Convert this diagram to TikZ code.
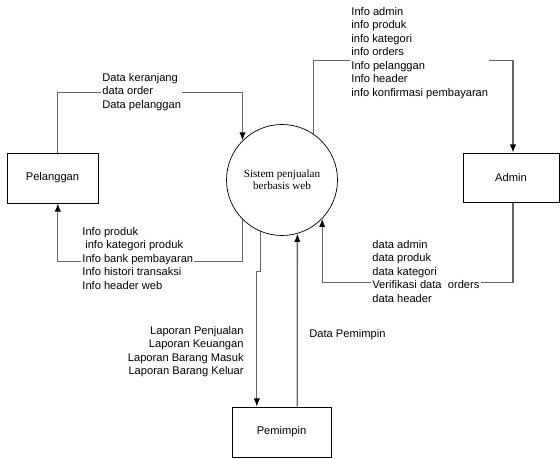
\documentclass[tikz,border=0pt]{standalone}
\usepackage{fontspec}
\setmainfont{Liberation Sans}
\newfontfamily\sysfont{Liberation Serif}
\usetikzlibrary{arrows.meta,calc,backgrounds}

\begin{document}
\begin{tikzpicture}[x=0.03cm,y=-0.03cm,
  box/.style={draw=black,line width=0.6pt,minimum height=1.5cm,font=\fontsize{9.5}{11.5}\selectfont},
  flow/.style={draw=black!60,line width=1.1pt,-{Latex[length=7pt,width=5.5pt,black]}},
  lbl/.style={fill=white,inner sep=1pt,align=left,font=\fontsize{9.5}{11.5}\selectfont}]
\useasboundingbox (0,0) rectangle (560,459);

% process and external entities
\node[circle,draw=black,line width=0.6pt,minimum size=3.33cm,align=center,font=\sysfont\fontsize{9.5}{10}\selectfont] (sys) at (282,180) {Sistem penjualan\\berbasis web};
\node[box,minimum width=2.73cm] (pel) at (52.5,178) {Pelanggan};
\node[box,minimum width=2.88cm,minimum height=1.47cm] (adm) at (511,177.5) {Admin};
\node[box,minimum width=2.97cm] (pem) at (281.5,432) {Pemimpin};

% data flow labels
\node[lbl,anchor=north west] (pelin) at (101,72) {Data keranjang\\data order\\Data pelanggan};
\node[lbl,anchor=north west] (pelout) at (81,226) {Info produk\\\hspace{2.5pt}info kategori produk\\Info bank pembayaran\\Info histori transaksi\\Info header web};
\node[lbl,anchor=north west] (admin) at (350,6) {Info admin\\info produk\\info kategori\\info orders\\Info pelanggan\\Info header\\info konfirmasi pembayaran};
\node[lbl,anchor=north west] (admout) at (371,239) {data admin\\data produk\\data kategori\\Verifikasi data\ \ orders\\data header};
\node[lbl,anchor=north east,align=right] (pemout) at (245,325) {Laporan Penjualan\\Laporan Keuangan\\Laporan Barang Masuk\\Laporan Barang Keluar};
\node[lbl,anchor=north west] (pemin) at (308,328) {Data Pemimpin};

% flows
\begin{scope}[on background layer]
\draw[flow] ([xshift=0.16cm]pel.north) -- ++(0,-60) -| (sys.135);
\draw[flow] (sys.225) -- ++(0,42) -| ([xshift=0.16cm]pel.south);
\draw[flow] (sys.56) -- ++(0,-73) -| ([xshift=0.06cm]adm.north);
\draw[flow] ([xshift=0.06cm]adm.south) -- ++(0,80) -| (sys.-44);
\draw[flow] (sys.-113) -- ++(0,40) -| ([xshift=-0.74cm]pem.north);
\draw[flow] ([xshift=0.47cm]pem.north) -- (sys.-74);
\end{scope}
\end{tikzpicture}
\end{document}
